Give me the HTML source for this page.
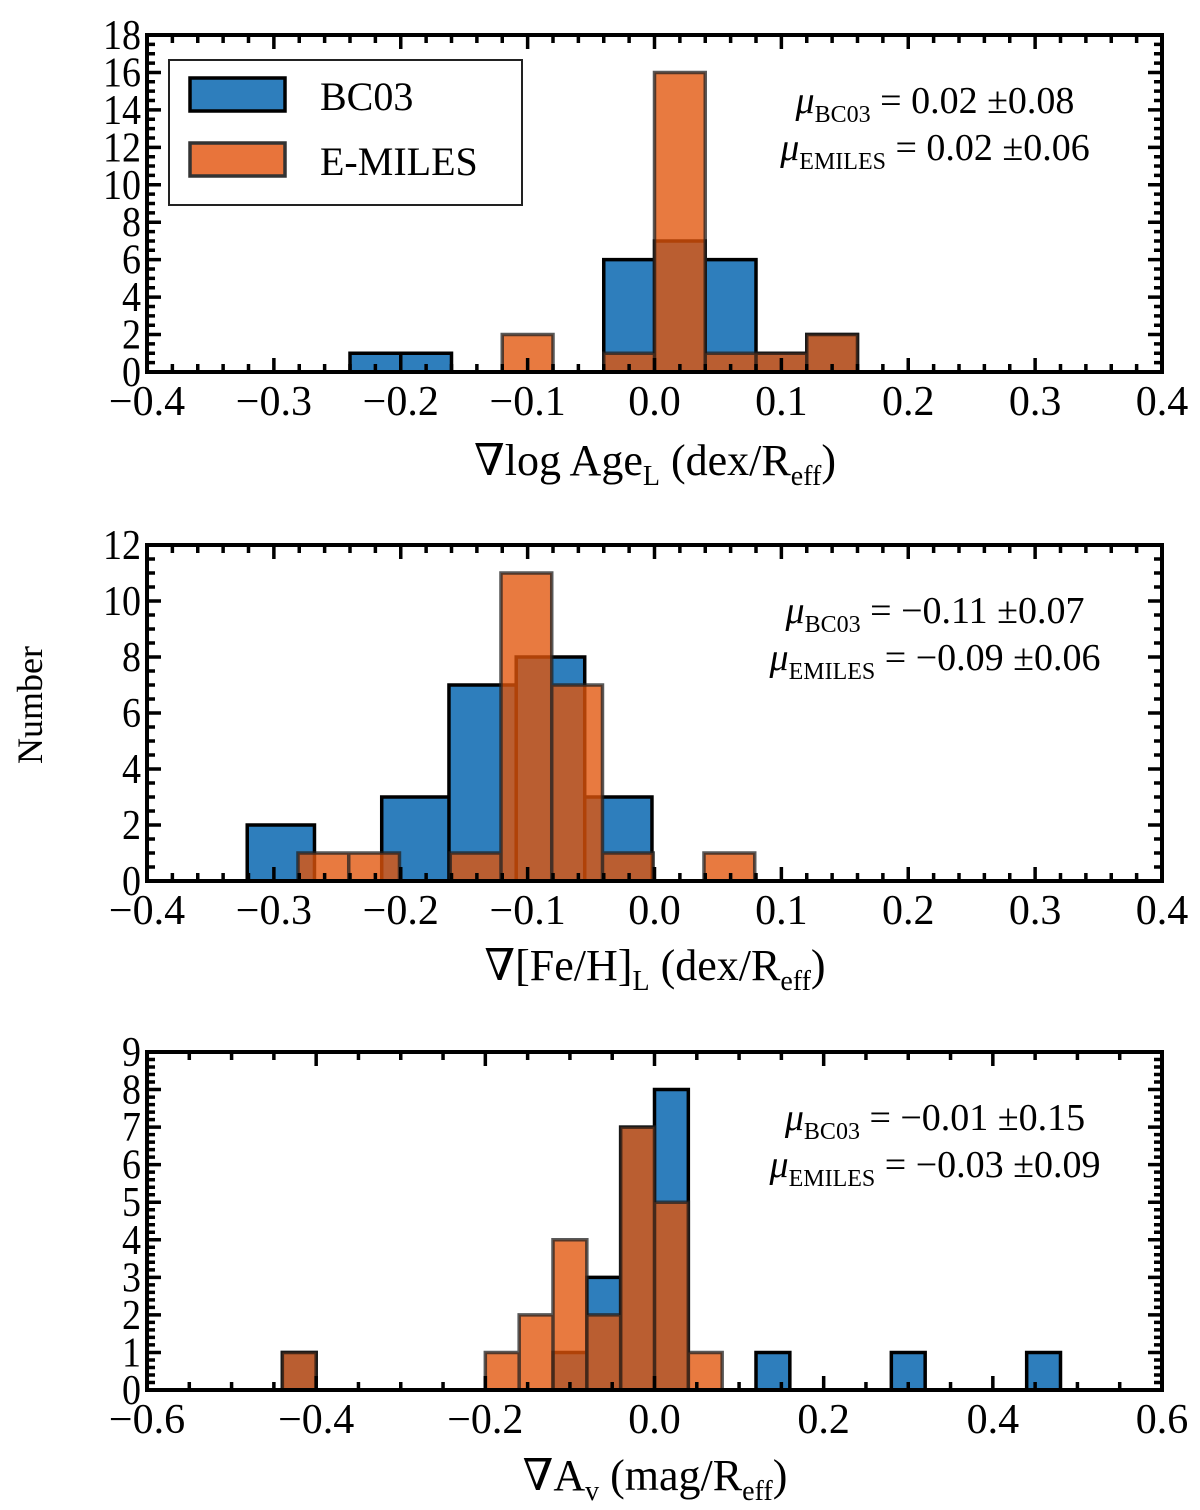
<!DOCTYPE html>
<html><head><meta charset="utf-8">
<style>
body{margin:0;background:#fff}
svg{display:block}
text{font-family:"Liberation Serif","DejaVu Serif",serif;fill:#000}
</style></head>
<body>
<svg id="fig" width="1200" height="1510" viewBox="0 0 1200 1510" xmlns="http://www.w3.org/2000/svg">
<text x="0" y="0" font-size="36" text-anchor="middle" transform="translate(42,705) rotate(-90)">Number</text>
</svg>
<script>
// Panel 1: age gradient
const p1Edges = [-0.24,-0.20,-0.16,-0.12,-0.08,-0.04,0.00,0.04,0.08,0.12,0.16];
const p1Blue  = [1,1,0,0,0,6,7,6,1,2];
const p1Orange= [0,0,0,2,0,1,16,1,1,2];
// Panel 2: metallicity gradient
const p2BlueEdges = [-0.321,-0.268,-0.215,-0.162,-0.109,-0.055,-0.002];
const p2Blue = [2,0,3,7,8,3];
const p2OrangeEdges = [-0.281,-0.241,-0.201,-0.161,-0.121,-0.081,-0.041,-0.001,0.039,0.079];
const p2Orange = [1,1,0,1,11,7,1,0,1];
// Panel 3: extinction gradient
const p3Edges = [-0.44,-0.40,-0.36,-0.32,-0.28,-0.24,-0.20,-0.16,-0.12,-0.08,-0.04,0.00,0.04,0.08,0.12,0.16,0.20,0.24,0.28,0.32,0.36,0.40,0.44,0.48];
const p3Blue  = [1,0,0,0,0,0,0,0,1,3,7,8,0,0,1,0,0,0,1,0,0,0,1];
const p3Orange= [1,0,0,0,0,0,1,2,4,2,7,5,1,0,0,0,0,0,0,0,0,0,0];
const p1XTicks = ["\u22120.4","\u22120.3","\u22120.2","\u22120.1","0.0","0.1","0.2","0.3","0.4"];
const p3XTicks = ["\u22120.6","\u22120.4","\u22120.2","0.0","0.2","0.4","0.6"];

const NS="http://www.w3.org/2000/svg";
const svg=document.getElementById('fig');
function mk(tag,attrs,parent){const e=document.createElementNS(NS,tag);for(const k in attrs)e.setAttribute(k,attrs[k]);(parent||svg).appendChild(e);return e;}

function panel(cfg){
  const g=mk('g',{});
  
  
  const L=147,R=1162,T=cfg.top,B=cfg.bottom;
  const sx=v=>L+(v-cfg.xmin)/(cfg.xmax-cfg.xmin)*(R-L);
  const sy=v=>B-v/cfg.ymax*(B-T);
  function hist(edges,vals,fill,op,stroke,sop,nm){
    let d='';
    for(let i=0;i<vals.length;i++){
      if(vals[i]<=0) continue;
      const x0=sx(edges[i]),x1=sx(edges[i+1]),y=sy(vals[i]);
      const r=mk('rect',{x:x0,y:y,width:x1-x0,height:B-y,fill:fill,'fill-opacity':op,stroke:'none'},g);
      
      
      d+=`M${x0},${B}L${x0},${y}L${x1},${y}L${x1},${B}`;
    }
    const p=mk('path',{d:d,fill:'none',stroke:stroke,'stroke-opacity':sop,'stroke-width':3.5,'stroke-linejoin':'miter'},g);
    
    
  }
  hist(cfg.bEdges,cfg.blue,'#2e7ebc',1,'#000',1,'bc03');
  hist(cfg.oEdges,cfg.orange,'#e2550a',0.78,'#222',0.75,'emiles');
  let td='';
  for(let v=cfg.xmin;v<=cfg.xmax+1e-9;v+=cfg.xminor){
    const x=sx(v);const maj=Math.abs(Math.round(v/cfg.xmajor)*cfg.xmajor-v)<1e-6;
    const len=maj?14:8;
    td+=`M${x},${B}L${x},${B-len}M${x},${T}L${x},${T+len}`;
  }
  for(let v=0;v<=cfg.ymax+1e-9;v+=cfg.yminor){
    const y=sy(v);const maj=Math.abs(Math.round(v/cfg.ymajor)*cfg.ymajor-v)<1e-6;
    const len=maj?14:8;
    td+=`M${L},${y}L${L+len},${y}M${R},${y}L${R-len},${y}`;
  }
  const tk=mk('path',{d:td,stroke:'#000','stroke-width':3.5,fill:'none'},g);
  
  
  const fr=mk('rect',{x:L,y:T,width:R-L,height:B-T,fill:'none',stroke:'#000','stroke-width':4},g);
  
  
  cfg.xticks.forEach((lab,i)=>{
    const v=cfg.xmin+i*cfg.xmajor;
    const t=mk('text',{x:sx(v),y:B+43,'font-size':42,'text-anchor':'middle'},g);
    t.textContent=lab;
    
    
  });
  for(let v=0;v<=cfg.ymax+1e-9;v+=cfg.ymajor){
    const t=mk('text',{x:141,y:sy(v)+14,'font-size':42,'text-anchor':'end',textLength:(String(Math.round(v)).length*19),lengthAdjust:'spacingAndGlyphs'},g);
    t.textContent=String(Math.round(v));
    
    
  }
  const s1=mk('text',{x:935,y:T+cfg.sOff,'font-size':38,'text-anchor':'middle'},g);
  s1.innerHTML=`<tspan font-style="italic">μ</tspan><tspan font-size="24" dy="9">BC03</tspan><tspan dy="-9"> = ${cfg.s1}</tspan>`;
  
  
  const s2=mk('text',{x:935,y:T+cfg.sOff+47,'font-size':38,'text-anchor':'middle'},g);
  s2.innerHTML=`<tspan font-style="italic">μ</tspan><tspan font-size="24" dy="9">EMILES</tspan><tspan dy="-9"> = ${cfg.s2}</tspan>`;
  
  
  const xl=mk('text',{x:655,y:cfg.xlabY,'font-size':44,'text-anchor':'middle'},g);
  xl.innerHTML=cfg.xlabel;
  
  
}

const sub=(s)=>`<tspan font-size="28" dy="10">${s}</tspan>`;
panel({name:'age-gradient-panel',top:35,bottom:372,xmin:-0.4,xmax:0.4,xmajor:0.1,xminor:0.02,ymax:18,ymajor:2,yminor:0.5,
  bEdges:p1Edges,blue:p1Blue,oEdges:p1Edges,orange:p1Orange,xticks:p1XTicks,sOff:78,
  s1:'0.02 ±0.08',s2:'0.02 ±0.06',xlabY:475,
  xlabel:'∇log Age'+sub('L')+'<tspan dy="-10"> (dex/R</tspan>'+sub('eff')+'<tspan dy="-10">)</tspan>'});
panel({name:'metallicity-gradient-panel',top:545,bottom:881,xmin:-0.4,xmax:0.4,xmajor:0.1,xminor:0.02,ymax:12,ymajor:2,yminor:0.5,
  bEdges:p2BlueEdges,blue:p2Blue,oEdges:p2OrangeEdges,orange:p2Orange,xticks:p1XTicks,sOff:78,
  s1:'−0.11 ±0.07',s2:'−0.09 ±0.06',xlabY:980,
  xlabel:'∇[Fe/H]'+sub('L')+'<tspan dy="-10"> (dex/R</tspan>'+sub('eff')+'<tspan dy="-10">)</tspan>'});
panel({name:'extinction-gradient-panel',top:1052,bottom:1390,xmin:-0.6,xmax:0.6,xmajor:0.2,xminor:0.05,ymax:9,ymajor:1,yminor:0.2,
  bEdges:p3Edges,blue:p3Blue,oEdges:p3Edges,orange:p3Orange,xticks:p3XTicks,sOff:78,
  s1:'−0.01 ±0.15',s2:'−0.03 ±0.09',xlabY:1490,
  xlabel:'∇A'+sub('v')+'<tspan dy="-10"> (mag/R</tspan>'+sub('eff')+'<tspan dy="-10">)</tspan>'});

const lg=mk('g',{});


const lb=mk('rect',{x:169,y:60,width:353,height:145,fill:'#fff',stroke:'#222','stroke-width':2},lg);


const lp1=mk('rect',{x:190,y:78,width:95,height:33,fill:'#2e7ebc',stroke:'#000','stroke-width':3.5},lg);


const lp2=mk('rect',{x:190,y:143,width:95,height:33,fill:'#e8743b',stroke:'#333','stroke-width':3.5},lg);


const lt1=mk('text',{x:320,y:110,'font-size':40},lg);lt1.textContent='BC03';


const lt2=mk('text',{x:320,y:175,'font-size':40},lg);lt2.textContent='E-MILES';


</script>
</body></html>
